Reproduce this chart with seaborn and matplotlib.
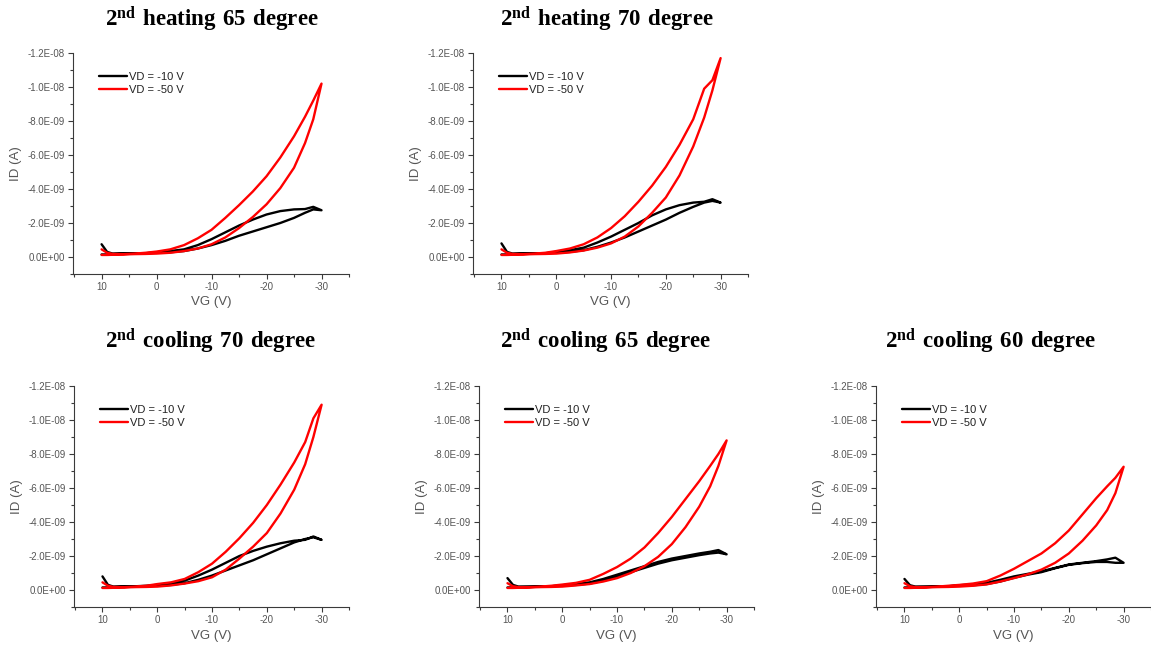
import matplotlib
matplotlib.use("Agg")
import numpy as np
import pandas as pd
import matplotlib.pyplot as plt
from matplotlib.ticker import FixedLocator, MultipleLocator, FuncFormatter
import seaborn as sns

# Gate voltage grid (V); the forward sweep runs 10 -> -30, the reverse sweep runs back
VG = [10, 9, 8, 6, 4, 2, 0, -2.5, -5, -7.5, -10, -12.5, -15, -17.5,
      -20, -22.5, -25, -27, -28.5, -30]

# Drain current magnitudes in nA (ID is negative), listed along VG
heat65_vd10_fwd = [0.75, 0.3, 0.2, 0.2, 0.2, 0.22, 0.28, 0.35, 0.45, 0.7, 1.05, 1.45, 1.85, 2.2, 2.5, 2.7, 2.8, 2.82, 2.95, 2.75]
heat65_vd10_rev = [0.15, 0.15, 0.17, 0.2, 0.2, 0.22, 0.25, 0.28, 0.35, 0.5, 0.7, 0.95, 1.25, 1.5, 1.75, 2.0, 2.3, 2.6, 2.8, 2.75]
heat65_vd50_fwd = [0.45, 0.25, 0.18, 0.17, 0.2, 0.25, 0.32, 0.45, 0.7, 1.1, 1.6, 2.3, 3.05, 3.85, 4.75, 5.85, 7.1, 8.25, 9.2, 10.2]
heat65_vd50_rev = [0.12, 0.12, 0.13, 0.15, 0.17, 0.18, 0.2, 0.25, 0.35, 0.5, 0.75, 1.15, 1.7, 2.35, 3.1, 4.05, 5.25, 6.7, 8.1, 10.2]

heat70_vd10_fwd = [0.8, 0.3, 0.2, 0.2, 0.2, 0.22, 0.3, 0.4, 0.55, 0.85, 1.2, 1.6, 2.0, 2.45, 2.8, 3.05, 3.2, 3.25, 3.4, 3.2]
heat70_vd10_rev = [0.15, 0.15, 0.17, 0.2, 0.2, 0.22, 0.25, 0.3, 0.4, 0.6, 0.85, 1.15, 1.5, 1.85, 2.2, 2.6, 2.95, 3.2, 3.3, 3.2]
heat70_vd50_fwd = [0.45, 0.25, 0.18, 0.17, 0.2, 0.25, 0.35, 0.5, 0.75, 1.15, 1.7, 2.4, 3.25, 4.2, 5.3, 6.6, 8.1, 9.9, 10.4, 11.7]
heat70_vd50_rev = [0.12, 0.12, 0.13, 0.15, 0.17, 0.18, 0.2, 0.27, 0.38, 0.55, 0.8, 1.2, 1.8, 2.6, 3.5, 4.8, 6.5, 8.2, 9.8, 11.7]

cool70_vd10_fwd = [0.8, 0.3, 0.2, 0.2, 0.22, 0.25, 0.3, 0.4, 0.55, 0.85, 1.2, 1.6, 2.0, 2.3, 2.55, 2.75, 2.9, 2.95, 3.15, 2.95]
cool70_vd10_rev = [0.15, 0.15, 0.17, 0.2, 0.2, 0.22, 0.25, 0.3, 0.4, 0.6, 0.85, 1.15, 1.45, 1.75, 2.1, 2.45, 2.8, 3.0, 3.1, 2.95]
cool70_vd50_fwd = [0.45, 0.25, 0.18, 0.17, 0.2, 0.25, 0.35, 0.45, 0.65, 1.05, 1.55, 2.25, 3.05, 3.95, 5.0, 6.2, 7.5, 8.7, 10.1, 10.9]
cool70_vd50_rev = [0.12, 0.12, 0.13, 0.15, 0.17, 0.18, 0.2, 0.27, 0.38, 0.52, 0.75, 1.2, 1.85, 2.55, 3.35, 4.5, 5.9, 7.4, 9.0, 10.9]

cool65_vd10_fwd = [0.7, 0.3, 0.2, 0.2, 0.2, 0.22, 0.28, 0.35, 0.45, 0.65, 0.9, 1.15, 1.4, 1.65, 1.85, 2.0, 2.15, 2.25, 2.35, 2.1]
cool65_vd10_rev = [0.15, 0.15, 0.17, 0.18, 0.2, 0.22, 0.25, 0.3, 0.38, 0.55, 0.8, 1.05, 1.3, 1.55, 1.75, 1.9, 2.05, 2.15, 2.2, 2.1]
cool65_vd50_fwd = [0.4, 0.22, 0.17, 0.17, 0.2, 0.25, 0.32, 0.42, 0.6, 0.95, 1.35, 1.85, 2.5, 3.35, 4.3, 5.35, 6.4, 7.3, 8.0, 8.8]
cool65_vd50_rev = [0.12, 0.12, 0.13, 0.15, 0.17, 0.18, 0.2, 0.27, 0.35, 0.5, 0.7, 1.0, 1.4, 1.95, 2.7, 3.7, 4.9, 6.1, 7.3, 8.8]

cool60_vd10_fwd = [0.65, 0.28, 0.2, 0.2, 0.2, 0.22, 0.28, 0.33, 0.42, 0.6, 0.8, 0.95, 1.1, 1.3, 1.5, 1.6, 1.7, 1.8, 1.9, 1.6]
cool60_vd10_rev = [0.15, 0.15, 0.17, 0.18, 0.2, 0.22, 0.25, 0.28, 0.35, 0.5, 0.72, 0.9, 1.05, 1.28, 1.48, 1.58, 1.65, 1.65, 1.6, 1.6]
cool60_vd50_fwd = [0.4, 0.22, 0.17, 0.17, 0.2, 0.25, 0.3, 0.38, 0.52, 0.85, 1.25, 1.7, 2.15, 2.75, 3.5, 4.45, 5.4, 6.1, 6.6, 7.25]
cool60_vd50_rev = [0.12, 0.12, 0.13, 0.15, 0.17, 0.18, 0.2, 0.25, 0.33, 0.5, 0.7, 0.92, 1.2, 1.6, 2.15, 2.9, 3.8, 4.7, 5.7, 7.25]

TITLES = ["heating 65 degree", "heating 70 degree",
          "cooling 70 degree", "cooling 65 degree", "cooling 60 degree"]
SERIES_LABELS = ["VD = -10 V", "VD = -50 V"]
Y_TICKS = [0.0, -2e-9, -4e-9, -6e-9, -8e-9, -1.0e-8, -1.2e-8]
X_TICKS = [10, 0, -10, -20, -30]

PANELS = [
    (heat65_vd10_fwd, heat65_vd10_rev, heat65_vd50_fwd, heat65_vd50_rev),
    (heat70_vd10_fwd, heat70_vd10_rev, heat70_vd50_fwd, heat70_vd50_rev),
    (cool70_vd10_fwd, cool70_vd10_rev, cool70_vd50_fwd, cool70_vd50_rev),
    (cool65_vd10_fwd, cool65_vd10_rev, cool65_vd50_fwd, cool65_vd50_rev),
    (cool60_vd10_fwd, cool60_vd10_rev, cool60_vd50_fwd, cool60_vd50_rev),
]

sns.set_style("ticks")
plt.rcParams["font.family"] = ["Liberation Sans", "DejaVu Sans"]
plt.rcParams["mathtext.fontset"] = "custom"
plt.rcParams["mathtext.bf"] = "Liberation Serif:bold"
plt.rcParams["mathtext.rm"] = "Liberation Serif"

W, H = 1151, 649
fig = plt.figure(figsize=(W / 100, H / 100), dpi=100)
fig.patch.set_facecolor("white")

# axes boxes in pixels: left, right, top, bottom
BOXES = [(73, 349, 53, 274), (473, 748, 53, 274),
         (74, 349, 386, 607), (479, 754, 386, 607), (876, 1151, 386, 607)]
TITLE_POS = [(212, 26), (607, 26), (211, 348), (606, 348), (991, 348)]

TEXT_C = "#555555"
SPINE_C = "#3a3a3a"
COLORS = ["#000000", "#ff0000"]


def loop_frame(fwd, rev, label):
    vg = list(VG) + list(VG[::-1])
    cur = [-v * 1e-9 for v in fwd] + [-v * 1e-9 for v in rev[::-1]]
    return pd.DataFrame({"VG": vg, "ID": cur, "series": label,
                         "step": range(len(vg))})


for i, (box, data) in enumerate(zip(BOXES, PANELS)):
    l, r, t, b = box
    ax = fig.add_axes([l / W, 1 - b / H, (r - l) / W, (b - t) / H])
    for k in range(2):
        df = loop_frame(data[2 * k], data[2 * k + 1], SERIES_LABELS[k])
        sns.lineplot(data=df, x="VG", y="ID", sort=False, estimator=None,
                     color=COLORS[k], lw=1.7, ax=ax, label=SERIES_LABELS[k])

    ax.set_xlim(15.2, -35)
    ax.set_ylim(1e-9, -1.2e-8)
    ax.xaxis.set_major_locator(FixedLocator(X_TICKS))
    ax.xaxis.set_minor_locator(MultipleLocator(5))
    ax.yaxis.set_major_locator(FixedLocator(Y_TICKS))
    ax.yaxis.set_minor_locator(MultipleLocator(1e-9))
    ax.yaxis.set_major_formatter(FuncFormatter(lambda v, p: f"{v:.1E}".replace("-0.0", "0.0")))
    ax.xaxis.set_major_formatter(FuncFormatter(lambda v, p: f"{v:g}"))

    for s in ("top", "right"):
        ax.spines[s].set_visible(False)
    for s in ("left", "bottom"):
        ax.spines[s].set_color(SPINE_C)
        ax.spines[s].set_linewidth(0.8)
    ax.tick_params(axis="both", which="major", direction="out", length=3.5,
                   width=0.8, color=SPINE_C, labelsize=7, labelcolor=TEXT_C, pad=2.5)
    ax.tick_params(axis="both", which="minor", direction="out", length=2,
                   width=0.8, color=SPINE_C)

    ax.set_xlabel("VG (V)", fontsize=9.5, color=TEXT_C, labelpad=3)
    ax.set_ylabel("ID (A)", fontsize=9.5, color=TEXT_C, labelpad=4)

    ax.legend(loc="upper left", bbox_to_anchor=(0.095, 0.915), frameon=False,
              fontsize=8, handlelength=2.5, handletextpad=0.15, labelspacing=0.25,
              borderpad=0, borderaxespad=0, labelcolor="#222222")

    tx, ty = TITLE_POS[i]
    words = TITLES[i].replace(" ", r"\ ")
    fig.text(tx / W, 1 - ty / H, r"$\mathbf{2^{nd}\ " + words + "}$",
             ha="center", va="baseline", fontsize=16.5, color="#000000")

fig.savefig("out.png", dpi=100, facecolor="white")
